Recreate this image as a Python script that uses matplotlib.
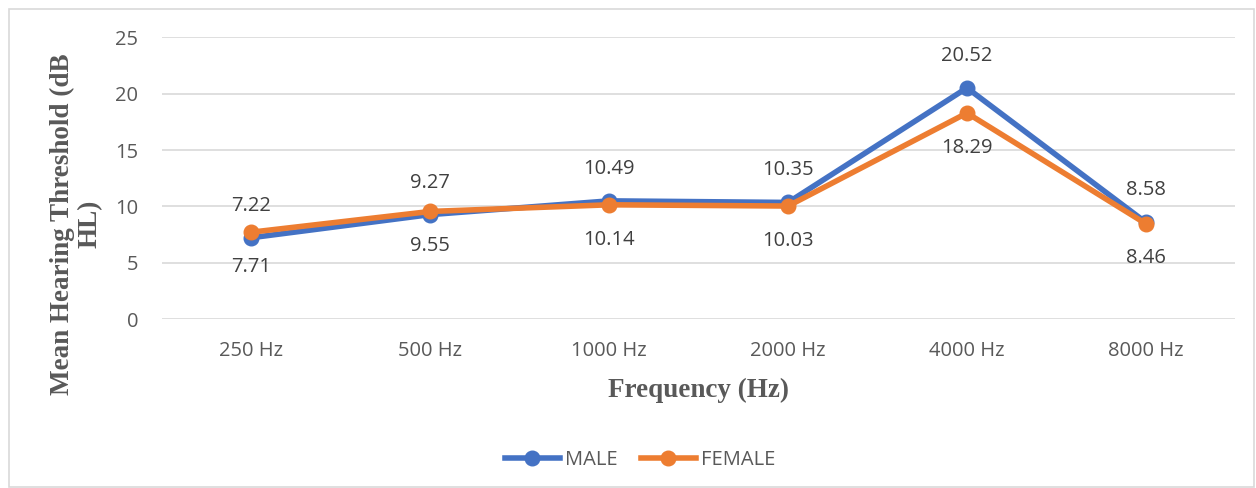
import matplotlib.pyplot as plt
from matplotlib.patches import Rectangle

freqs = ['250 Hz', '500 Hz', '1000 Hz', '2000 Hz', '4000 Hz', '8000 Hz']
male = [7.22, 9.27, 10.49, 10.35, 20.52, 8.58]
female = [7.71, 9.55, 10.14, 10.03, 18.29, 8.46]

azul = '#4472C4'
laranja = '#ED7D31'
cinza = '#595959'

plt.rcParams['font.family'] = ['Open Sans', 'DejaVu Sans']

fig = plt.figure(figsize=(12.56, 4.88), dpi=100)
ax = fig.add_axes([0.129, 0.3463, 0.8545, 0.577])

# moldura do grafico
fig.patches.append(Rectangle((9 / 1256, 1 / 488), 1245 / 1256, 478 / 488, transform=fig.transFigure,
                             fill=False, edgecolor='#D9D9D9', linewidth=1.2))

x = [i + 0.5 for i in range(len(freqs))]
ax.plot(x, male, color=azul, marker='o', markersize=10.5, linewidth=4, label='MALE', zorder=3)
ax.plot(x, female, color=laranja, marker='o', markersize=10.5, linewidth=4, label='FEMALE', zorder=4)

for xi, v in zip(x, male):
    ax.annotate(f'{v:.2f}', (xi, v), xytext=(0, 23), textcoords='offset points',
                ha='center', va='center', fontsize=14.5, color='#404040')
for xi, v in zip(x, female):
    ax.annotate(f'{v:.2f}', (xi, v), xytext=(0, -25), textcoords='offset points',
                ha='center', va='center', fontsize=14.5, color='#404040')

ax.set_xlim(0, 6)
ax.set_ylim(0, 25)
ax.set_xticks(x)
ax.set_xticklabels(freqs)
ax.set_yticks([0, 5, 10, 15, 20, 25])
ax.tick_params(axis='both', length=0, labelsize=14.5, labelcolor=cinza)
ax.tick_params(axis='y', pad=17)
ax.tick_params(axis='x', pad=16)
ax.grid(axis='y', color='#D9D9D9', linewidth=1.2)
ax.set_axisbelow(True)
for s in ax.spines.values():
    s.set_visible(False)

fig.text(698 / 1256, 1 - 390 / 488, 'Frequency (Hz)', ha='center', va='center',
         fontsize=19.5, fontweight='bold', color=cinza, family='Liberation Serif')
fig.text(76 / 1256, 1 - 224 / 488, 'Mean Hearing Threshold (dB\nHL)', ha='center', va='center',
         rotation=90, multialignment='center', fontsize=19.5, fontweight='bold', color=cinza,
         family='Liberation Serif', linespacing=1.15)

fig.legend(loc='center', bbox_to_anchor=(640 / 1256, 1 - 460 / 488), ncol=2, frameon=False,
           fontsize=14.5, labelcolor=cinza, handlelength=2.75, handletextpad=0.25, columnspacing=1.15)

fig.savefig('out.png', dpi=100)
